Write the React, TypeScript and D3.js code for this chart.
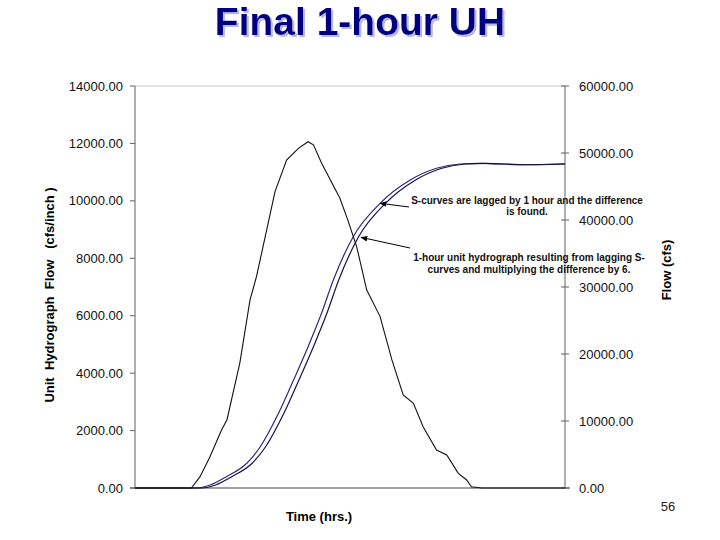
import React from "react";
import * as d3 from "d3";

// Unit hydrograph (cfs/inch), left axis
const uhTimes = [0, 10.5, 12.1, 13.95, 16.1, 17.1, 19.5, 21.4, 22.6, 24.5, 26.05, 28.2, 30.4, 32.2, 33.2, 34.7, 38.1, 39.6, 41.25, 43.1, 45.6, 47.8, 49.9, 51.8, 53.6, 56.1, 58.0, 60.15, 61.7, 62.6, 64.5, 80];
const uhValues = [0, 0, 394, 1090, 2020, 2370, 4350, 6550, 7360, 8990, 10320, 11420, 11830, 12060, 11950, 11320, 10100, 9330, 8400, 6900, 5970, 4460, 3240, 2950, 2135, 1320, 1150, 510, 280, 45, 0, 0];

// S-curve (cfs), right axis
const sTimes = [0, 11.5, 14, 17, 20.8, 23.3, 26.7, 29.5, 32.2, 34.7, 36.9, 40.6, 45.6, 51.2, 56.1, 60.5, 64.2, 72, 80];
const sValues = [0, 0, 450, 1690, 3690, 6160, 11150, 16120, 21090, 26070, 31040, 37510, 42490, 45970, 47720, 48360, 48460, 48250, 48380];

// S-curve lagged by 1 hour (cfs), right axis
const sLagTimes = [0, 12.5, 15, 18, 21.8, 24.3, 27.7, 30.5, 33.2, 35.7, 37.9, 41.6, 46.6, 52.2, 57.1, 61.5, 65.2, 73, 80];
const sLagValues = [0, 0, 450, 1690, 3690, 6160, 11150, 16120, 21090, 26070, 31040, 37510, 42490, 45970, 47720, 48360, 48460, 48250, 48360];

const leftTicks = [0, 2000, 4000, 6000, 8000, 10000, 12000, 14000];
const rightTicks = [0, 10000, 20000, 30000, 40000, 50000, 60000];

const FONT = "'Liberation Sans', Arial, Helvetica, sans-serif";

export default function App() {
  const left = 135, right = 565, top = 86, bottom = 488;
  const x = d3.scaleLinear().domain([0, 80]).range([left, right]);
  const yL = d3.scaleLinear().domain([0, 14000]).range([bottom, top]);
  const yR = d3.scaleLinear().domain([0, 60000]).range([bottom, top]);

  const uhLine = d3.line<number>().x((_, i) => x(uhTimes[i])).y((d) => yL(d));
  const sLine = d3.line<number>().x((_, i) => x(sTimes[i])).y((d) => yR(d)).curve(d3.curveMonotoneX);
  const sLagLine = d3.line<number>().x((_, i) => x(sLagTimes[i])).y((d) => yR(d)).curve(d3.curveMonotoneX);

  const fmt = (v: number) => v.toFixed(2);

  return (
    <svg width={720} height={540} style={{ position: "absolute", left: 0, top: 0, background: "#fff" }} fontFamily={FONT}>
      <defs>
        <marker id="ah" viewBox="0 0 10 10" refX="9" refY="5" markerWidth="7" markerHeight="7" orient="auto">
          <path d="M0,1 L10,5 L0,9 z" fill="#000" />
        </marker>
        <filter id="shadow" x="-10%" y="-30%" width="120%" height="160%">
          <feDropShadow dx="2" dy="2" stdDeviation="0.4" floodColor="#b8b8d8" floodOpacity="1" />
        </filter>
      </defs>
      {/* Title */}
      <text x={360} y={35} textAnchor="middle" fontSize={39} fontWeight="bold" fill="#000080" filter="url(#shadow)">Final 1-hour UH</text>

      {/* frame */}
      <line x1={left} x2={right} y1={top} y2={top} stroke="#c8c8c8" strokeWidth={1} />
      <line x1={left} x2={left} y1={top} y2={bottom} stroke="#606060" strokeWidth={1} />
      <line x1={right} x2={right} y1={top} y2={bottom} stroke="#606060" strokeWidth={1} />
      <line x1={130} x2={570} y1={bottom} y2={bottom} stroke="#808080" strokeWidth={1.3} />

      {/* left axis */}
      {leftTicks.map((t) => (
        <g key={"l" + t}>
          <line x1={130} x2={left} y1={yL(t)} y2={yL(t)} stroke="#606060" />
          <text x={123} y={yL(t)} dy="0.35em" textAnchor="end" fontSize={13} fill="#111">{fmt(t)}</text>
        </g>
      ))}
      {/* right axis */}
      {rightTicks.map((t) => (
        <g key={"r" + t}>
          <line x1={561} x2={569} y1={yR(t)} y2={yR(t)} stroke="#606060" />
          <text x={579} y={yR(t)} dy="0.35em" textAnchor="start" fontSize={13} fill="#111">{fmt(t)}</text>
        </g>
      ))}

      {/* axis titles */}
      <text transform="translate(54,295) rotate(-90)" textAnchor="middle" fontSize={13} fontWeight="bold" style={{ whiteSpace: "pre" }}>
        {"Unit  Hydrograph  Flow   (cfs/inch )"}
      </text>
      <text transform="translate(671,270) rotate(-90)" textAnchor="middle" fontSize={13} fontWeight="bold">Flow (cfs)</text>
      <text x={319} y={521} textAnchor="middle" fontSize={13} fontWeight="bold">Time (hrs.)</text>
      <text x={668} y={511} textAnchor="middle" fontSize={13} fill="#222">56</text>

      {/* series */}
      <path d={sLine(sValues) || ""} fill="none" stroke="#2a2a80" strokeWidth={1.2} />
      <path d={sLagLine(sLagValues) || ""} fill="none" stroke="#15153a" strokeWidth={1.2} />
      <path d={uhLine(uhValues) || ""} fill="none" stroke="#111" strokeWidth={1.1} />

      {/* annotations */}
      <line x1={409} y1={207} x2={380} y2={203.3} stroke="#000" strokeWidth={1} markerEnd="url(#ah)" />
      <line x1={410} y1={248} x2={361} y2={237.3} stroke="#000" strokeWidth={1} markerEnd="url(#ah)" />
      <g fontSize={10} fontWeight="bold" textAnchor="middle" fill="#111">
        <text x={527} y={204}>S-curves are lagged by 1 hour and the difference</text>
        <text x={527} y={215}>is found.</text>
        <text x={529} y={261}>1-hour unit hydrograph resulting from lagging S-</text>
        <text x={529} y={273}>curves and multiplying the difference by 6.</text>
      </g>
    </svg>
  );
}
